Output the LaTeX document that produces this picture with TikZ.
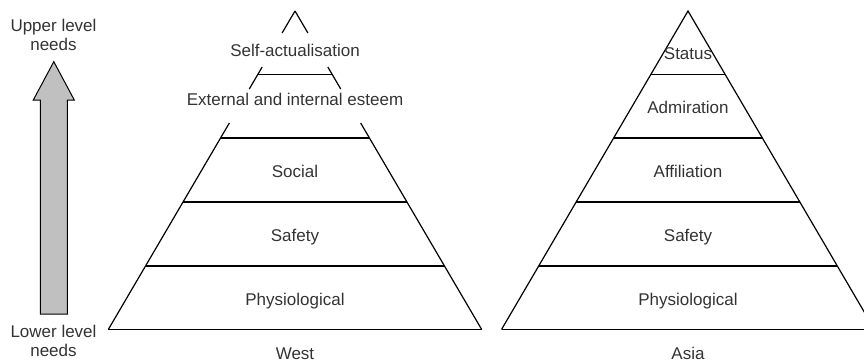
\documentclass[tikz,border=0pt]{standalone}
\usepackage{fontspec}
\setmainfont{Liberation Sans}
\usetikzlibrary{calc}
\definecolor{labelgray}{HTML}{333333}
\definecolor{arrowfill}{HTML}{C0C0C0}
\tikzset{
  side/.style={draw=black, line width=1.2pt},
  tier/.style={draw=black, line width=1.8pt},
  lbl/.style={text=labelgray, font=\fontsize{17}{19}\selectfont, inner sep=0pt, anchor=base},
  endlbl/.style={text=labelgray, font=\fontsize{17}{19}\selectfont, inner sep=0pt, align=center, anchor=center},
  blockarrow/.style={draw=black, line width=1pt, fill=arrowfill, line join=miter}
}
\begin{document}
\begin{tikzpicture}[x=1pt, y=-1pt]
\useasboundingbox (0,0) rectangle (864,361);
\clip (0,0) rectangle (864,361);

% ---- direction of needs ----
\node[endlbl] (upper) at (53.5,34.5) {Upper level\\needs};
\node[endlbl] (lower) at (53.5,340.5) {Lower level\\needs};
\draw[blockarrow] (40.3,314) -- (40.3,100) -- (33.3,100) -- (53.8,61.7)
  -- (74.3,100) -- (67.3,100) -- (67.3,314) -- cycle;

% ---- West pyramid (top tiers drawn with gaps around the labels) ----
\coordinate (WA) at (295,11);
\coordinate (WL) at (108.3,329.5);
\coordinate (WR) at (481.7,329.5);
\foreach \a/\b in {11/33, 67/89, 123/329.5} {
  \draw[side] ($(WA)!{(\a-11)/318.5}!(WL)$) -- ($(WA)!{(\b-11)/318.5}!(WL)$);
  \draw[side] ($(WA)!{(\a-11)/318.5}!(WR)$) -- ($(WA)!{(\b-11)/318.5}!(WR)$);
}
\foreach \y in {74.5,138,202,266,329.5} {
  \draw[tier] ($(WA)!{(\y-11)/318.5}!(WL)$) -- ($(WA)!{(\y-11)/318.5}!(WR)$);
}
\node[lbl] (w5) at (295,56.7) {Self-actualisation};
\node[lbl] (w4) at (295,105) {External and internal esteem};
\node[lbl] (w3) at (295,177) {Social};
\node[lbl] (w2) at (295,241) {Safety};
\node[lbl] (w1) at (295,305) {Physiological};
\node[lbl] (west) at (295,359) {West};

% ---- Asia pyramid ----
\coordinate (AA) at (688,11);
\coordinate (AL) at (501.5,329.5);
\coordinate (AR) at (874.5,329.5);
\draw[side] (AL) -- (AA) -- (AR);
\foreach \y in {74.5,138,202,266,329.5} {
  \draw[tier] ($(AA)!{(\y-11)/318.5}!(AL)$) -- ($(AA)!{(\y-11)/318.5}!(AR)$);
}
\node[lbl] (a5) at (688,59.3) {Status};
\node[lbl] (a4) at (688,113.3) {Admiration};
\node[lbl] (a3) at (688,177.3) {Affiliation};
\node[lbl] (a2) at (688,241) {Safety};
\node[lbl] (a1) at (688,305) {Physiological};
\node[lbl] (asia) at (688,359) {Asia};
\end{tikzpicture}
\end{document}
